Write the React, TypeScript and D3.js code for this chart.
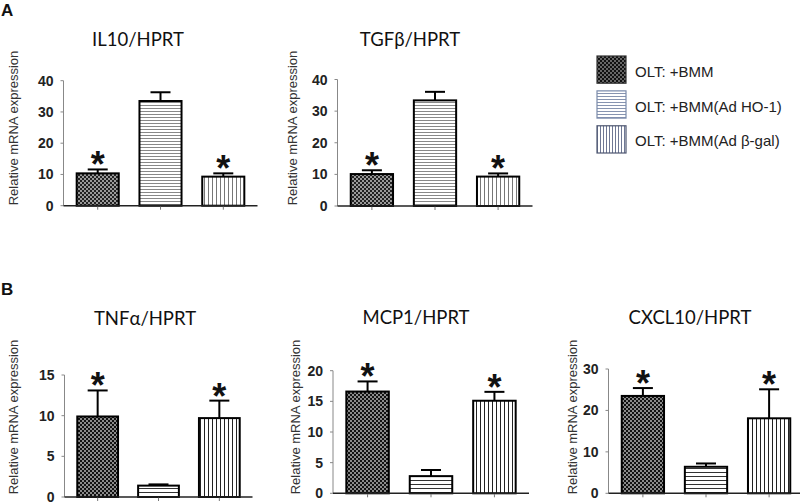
import React from "react";
import * as d3 from "d3";

// ---------- data ----------
const groups = ["OLT: +BMM", "OLT: +BMM(Ad HO-1)", "OLT: +BMM(Ad β-gal)"];
const significant = [true, false, true];

const il10Mean = [10.35, 33.5, 9.3];
const il10Err = [1.25, 2.8, 1.05];
const tgfbMean = [10.1, 33.4, 9.3];
const tgfbErr = [1.2, 2.7, 1.0];
const tnfaMean = [9.9, 1.4, 9.7];
const tnfaErr = [3.2, 0.15, 2.15];
const mcp1Mean = [16.6, 2.8, 15.1];
const mcp1Err = [1.65, 1.0, 1.45];
const cxcl10Mean = [23.5, 6.4, 18.1];
const cxcl10Err = [1.9, 0.8, 7.0];

const titles = ["IL10/HPRT", "TGFβ/HPRT", "TNFα/HPRT", "MCP1/HPRT", "CXCL10/HPRT"];
const yMax = [40, 40, 15, 20, 30];
const yStep = [10, 10, 5, 5, 10];
const yLabel = "Relative mRNA expression";

// ---------- layout ----------
const layouts = [
  { ax: 63.5, w: 194, y0: 205.7, yTop: 80.7, tx: 138, ty: 39, lx: 13, ly: 128, set: "A" },
  { ax: 337.5, w: 195, y0: 206, yTop: 79.5, tx: 410, ty: 39, lx: 292, ly: 128, set: "A" },
  { ax: 64.5, w: 188, y0: 497, yTop: 375, tx: 145, ty: 318, lx: 13, ly: 417, set: "B" },
  { ax: 333, w: 196, y0: 493.3, yTop: 370.7, tx: 416, ty: 317, lx: 295, ly: 417, set: "B" },
  { ax: 608.5, w: 195, y0: 493.3, yTop: 369, tx: 690, ty: 317, lx: 572, ly: 417, set: "B" },
];
const means = [il10Mean, tgfbMean, tnfaMean, mcp1Mean, cxcl10Mean];
const errs = [il10Err, tgfbErr, tnfaErr, mcp1Err, cxcl10Err];

const ARIAL = "'Liberation Sans', Arial, sans-serif";
const TITLE_FONT = "Lato, 'Open Sans', sans-serif";

function Panel({ i }: { i: number }) {
  const L = layouts[i];
  const x = d3
    .scaleBand<string>()
    .domain(groups)
    .range([L.ax, L.ax + L.w])
    .paddingInner(0.33)
    .paddingOuter(0.21);
  const y = d3.scaleLinear().domain([0, yMax[i]]).range([L.y0, L.yTop]);
  const ticks = d3.range(0, yMax[i] + 0.001, yStep[i]);
  const bw = x.bandwidth();
  const fills = [`url(#p1${L.set})`, `url(#p2${L.set})`, `url(#p3${L.set})`];
  return (
    <g>
      <text
        x={L.tx}
        y={L.ty + 6.5}
        textAnchor="middle"
        fontFamily={TITLE_FONT}
        fontSize={18.5}
        fill="#111"
      >
        {titles[i]}
      </text>
      <text
        transform={`translate(${L.lx},${L.ly}) rotate(-90)`}
        textAnchor="middle"
        dy="0.35em"
        fontFamily={ARIAL}
        fontSize={13}
        fill="#333"
      >
        {yLabel}
      </text>
      {/* y axis */}
      <line x1={L.ax} x2={L.ax} y1={y(0)} y2={y(yMax[i])} stroke="#888" strokeWidth={1} />
      {ticks.map((t) => (
        <g key={t}>
          <line x1={L.ax - 3} x2={L.ax} y1={y(t)} y2={y(t)} stroke="#888" strokeWidth={1} />
          <text
            x={L.ax - 10}
            y={y(t)}
            dy="0.36em"
            textAnchor="end"
            fontFamily={ARIAL}
            fontWeight="bold"
            fontSize={14}
            fill="#222"
          >
            {t}
          </text>
        </g>
      ))}
      {/* bars */}
      {groups.map((g, k) => {
        const bx = x(g)!;
        const cx = bx + bw / 2;
        const top = y(means[i][k]);
        const et = y(means[i][k] + errs[i][k]);
        return (
          <g key={g}>
            <line x1={cx} x2={cx} y1={top} y2={et} stroke="#000" strokeWidth={2} />
            <line x1={cx - 10} x2={cx + 10} y1={et} y2={et} stroke="#000" strokeWidth={2} />
            <rect
              x={bx}
              y={top}
              width={bw}
              height={y(0) - top}
              fill={fills[k]}
              stroke="#000"
              strokeWidth={2}
            />
            <line x1={cx} x2={cx} y1={y(0)} y2={y(0) + 4} stroke="#777" strokeWidth={1} />
            {significant[k] && (
              <text
                x={cx}
                y={et + 8}
                textAnchor="middle"
                fontFamily={ARIAL}
                fontWeight="bold"
                fontSize={36}
                fill="#111"
              >
                *
              </text>
            )}
          </g>
        );
      })}
      {/* x axis */}
      <line x1={L.ax} x2={L.ax + L.w} y1={y(0)} y2={y(0)} stroke="#222" strokeWidth={1.5} />
    </g>
  );
}

function Legend() {
  const ly = d3.scaleBand<string>().domain(groups).range([56, 153]).paddingInner(0.22);
  const fills = ["url(#p1L)", "url(#p2L)", "url(#p3L)"];
  const strokes = ["#333", "#7b8bab", "#4d5670"];
  return (
    <g>
      {groups.map((g, k) => (
        <g key={g}>
          <rect
            x={597}
            y={ly(g)!}
            width={29}
            height={ly.bandwidth()}
            fill={fills[k]}
            stroke={strokes[k]}
            strokeWidth={1.2}
          />
          <text
            x={635}
            y={ly(g)! + ly.bandwidth() / 2 + 7}
            fontFamily={ARIAL}
            fontSize={15}
            fill="#222"
          >
            {g}
          </text>
        </g>
      ))}
    </g>
  );
}

export default function App() {
  return (
    <svg
      width={800}
      height={503}
      viewBox="0 0 800 503"
      style={{ position: "absolute", left: 0, top: 0, background: "#fff" }}
    >
      <defs>
        <pattern id="p1A" width={4} height={4} patternUnits="userSpaceOnUse">
          <rect width={4} height={4} fill="#9a9a9a" />
          <rect width={2} height={2} fill="#222" />
          <rect x={2} y={2} width={2} height={2} fill="#222" />
        </pattern>
        <pattern id="p1B" width={4} height={4} patternUnits="userSpaceOnUse">
          <rect width={4} height={4} fill="#8a8a8a" />
          <rect width={2} height={2} fill="#111" />
          <rect x={2} y={2} width={2} height={2} fill="#111" />
        </pattern>
        <pattern id="p1L" width={4} height={4} patternUnits="userSpaceOnUse">
          <rect width={4} height={4} fill="#666" />
          <rect width={2} height={2} fill="#111" />
          <rect x={2} y={2} width={2} height={2} fill="#111" />
        </pattern>
        <pattern id="p2A" width={6} height={3} patternUnits="userSpaceOnUse">
          <rect width={6} height={3} fill="#fff" />
          <rect y={0} width={6} height={1} fill="#888" />
        </pattern>
        <pattern id="p2B" width={6} height={4} patternUnits="userSpaceOnUse">
          <rect width={6} height={4} fill="#fff" />
          <rect y={0} width={6} height={1} fill="#333" />
        </pattern>
        <pattern id="p2L" width={6} height={3} patternUnits="userSpaceOnUse">
          <rect width={6} height={3} fill="#fff" />
          <rect y={0} width={6} height={1} fill="#8794b0" />
        </pattern>
        <pattern id="p3A" width={4} height={6} patternUnits="userSpaceOnUse">
          <rect width={4} height={6} fill="#fff" />
          <rect x={0} width={1} height={6} fill="#777" />
        </pattern>
        <pattern id="p3B" width={4} height={6} patternUnits="userSpaceOnUse">
          <rect width={4} height={6} fill="#fff" />
          <rect x={0} width={1} height={6} fill="#222" />
        </pattern>
        <pattern id="p3L" width={3} height={6} patternUnits="userSpaceOnUse">
          <rect width={3} height={6} fill="#fff" />
          <rect x={0} width={1} height={6} fill="#6f7894" />
        </pattern>
      </defs>
      <text x={1} y={16} fontFamily={ARIAL} fontWeight="bold" fontSize={17} fill="#111">
        A
      </text>
      <text x={1} y={295} fontFamily={ARIAL} fontWeight="bold" fontSize={17} fill="#111">
        B
      </text>
      {layouts.map((_, i) => (
        <Panel key={i} i={i} />
      ))}
      <Legend />
    </svg>
  );
}
